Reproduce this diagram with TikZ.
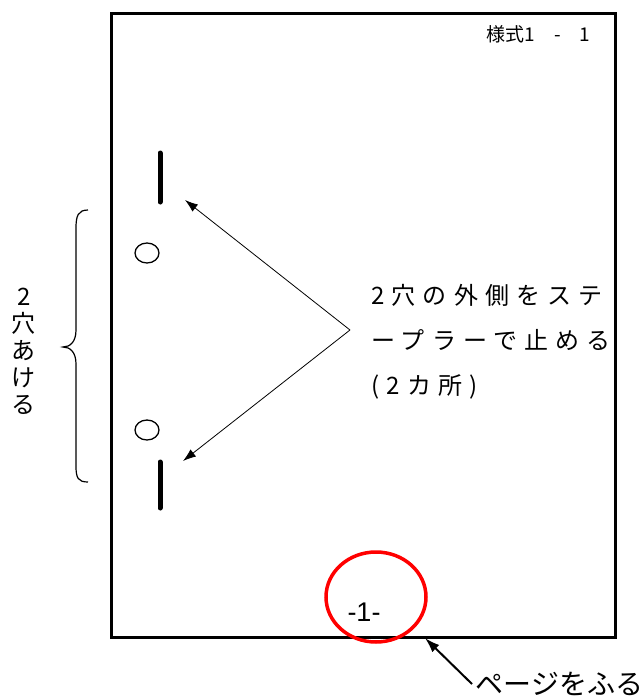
\documentclass[tikz,border=0pt]{standalone}
\usepackage{fontspec}
\setmainfont{Noto Sans CJK JP}
\newfontfamily\spacedfont[LetterSpace=30]{Noto Sans CJK JP}
\newfontfamily\numfont{Liberation Sans}
\usepackage{tikz}
\usetikzlibrary{positioning}
\usetikzlibrary{arrows.meta}
\tikzset{>=latex}

\begin{document}
\begin{tikzpicture}[x=1pt,y=-1pt]
\useasboundingbox (0,0) rectangle (644,697);

% ================= Page frame =================
\draw[line width=3pt] (111,13) rectangle (615,637);
\node[anchor=west, font=\fontsize{19pt}{20pt}\selectfont] (form) at (483,34) {様式1　-　1};

% ================= Staples and holes =================
\foreach \y/\z in {153/202, 462/508}{
  \draw[line width=5pt, line cap=round] (160,\y) -- (160,\z);
}
\foreach \y in {253, 430}{
  \draw[line width=1.3pt] (147,\y) ellipse [x radius=12pt, y radius=10pt];
}

% ================= Brace =================
\draw[line width=1.2pt]
  (88,210) .. controls (78,210) and (76,216) .. (76,228)
  -- (76,330)
  .. controls (76,342) and (70,347) .. (63,347)
  .. controls (70,347) and (76,352) .. (76,364)
  -- (76,466)
  .. controls (76,478) and (78,482) .. (88,482);

\node[align=center, font=\fontsize{24pt}{27pt}\selectfont] (holes) at (24,351) {2\\穴\\あ\\け\\る};

% ================= Staple note =================
\node[anchor=west, align=left, inner sep=0pt,
  font=\spacedfont\fontsize{24pt}{45pt}\selectfont] (note) at (371,342)
  {2穴の外側をステ\\ープラーで止める\\(2カ所)};

\coordinate (meet) at (350,330);
\coordinate (stapleUp) at (185,200);
\coordinate (stapleDown) at (183,461);
\draw[-{Latex[length=13pt,width=9pt]}, line width=0.8pt] (meet) -- (stapleUp);
\draw[-{Latex[length=13pt,width=9pt]}, line width=0.8pt] (meet) -- (stapleDown);

% ================= Page number =================
\node[font=\numfont\fontsize{27pt}{30pt}\selectfont] (pagenum) at (364,612) {-1-};
\draw[red, line width=3.5pt] (376,597) ellipse [x radius=50pt, y radius=45pt];

\node[anchor=west, font=\fontsize{28pt}{30pt}\selectfont] (numbering) at (472,684) {ページをふる};
\coordinate (corner) at (425,638);
\draw[-{Latex[length=15pt,width=10pt]}, line width=2pt] (numbering.west) -- (corner);

\end{tikzpicture}
\end{document}
